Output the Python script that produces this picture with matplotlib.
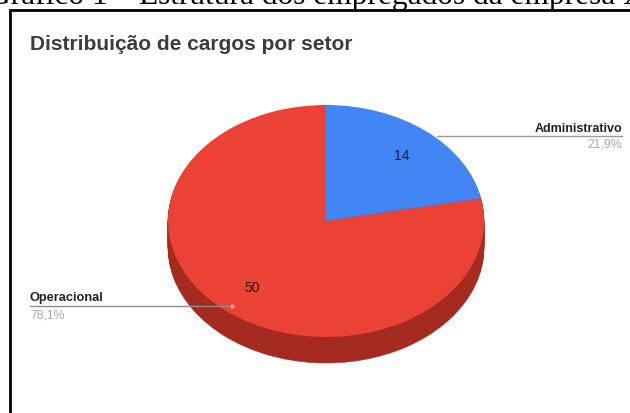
import matplotlib
matplotlib.use("Agg")
import matplotlib.pyplot as plt

categories = ["Administrativo", "Operacional"]
counts = [14, 50]
percents = ["21,9%", "78,1%"]

W, H = 630, 414
TOP_COLORS = ["#4285F4", "#EA4335"]
RIM_COLORS = ["#2F5FAE", "#A52B20"]

fig = plt.figure(figsize=(W / 100, H / 100), dpi=100, facecolor="white")

# full-figure layer in pixel coordinates for frame, heading and labels
bg = fig.add_axes([0, 0, 1, 1])
bg.set_xlim(0, W)
bg.set_ylim(H, 0)
bg.axis("off")

# pie axes stretched so the unit circle becomes the tilted ellipse
left, right, top, bottom = 168, 484, 106, 338
ax = fig.add_axes([left / W, 1 - bottom / H, (right - left) / W, (bottom - top) / H])

# rim: dark copies of the pie stepped downwards
depth = 26 / ((bottom - top) / 2)
for i in range(27, 0, -1):
    ax.pie(counts, colors=RIM_COLORS, startangle=90, counterclock=False,
           center=(0, -depth * i / 27), radius=1, frame=False,
           wedgeprops=dict(linewidth=0.4, edgecolor=RIM_COLORS[1], clip_on=False))
ax.pie(counts, colors=TOP_COLORS, startangle=90, counterclock=False,
       center=(0, 0), radius=1, frame=False,
       wedgeprops=dict(linewidth=0, clip_on=False))
ax.set_aspect("auto")
ax.set_xlim(-1, 1)
ax.set_ylim(-1, 1)
ax.axis("off")

# values on the slices
bg.set_zorder(2)
bg.patch.set_alpha(0)
bg.text(402, 156, str(counts[0]), fontsize=10, family="Liberation Sans", color="#202020",
        ha="center", va="center")
bg.text(252, 288, str(counts[1]), fontsize=10, family="Liberation Sans", color="#3A1510",
        ha="center", va="center")

# frame around the chart, open at the bottom and right
bg.plot([10, 10, 630], [414, 11, 11], color="black", lw=2, solid_joinstyle="miter")

# heading above the frame, cut by the top edge
bg.text(-12, 4, "Gráfico 1 – Estrutura dos empregados da empresa X", family="Liberation Serif",
        fontsize=22.6, color="black", va="baseline", ha="left", clip_on=True)

bg.text(30, 44, "Distribuição de cargos por setor", family="Liberation Sans", weight="bold",
        fontsize=15, color="#3C3C3C", va="center", ha="left")

# leader lines and slice labels
bg.plot([437, 622], [137, 137], color="#9A9A9A", lw=1)
bg.text(622, 129, categories[0], family="Liberation Sans", weight="bold", fontsize=9,
        color="#222222", ha="right", va="center")
bg.text(622, 145, percents[0], family="Liberation Sans", fontsize=8.8, color="#A8A8A8",
        ha="right", va="center")

bg.plot([30, 232], [307, 307], color="#8E8E8E", lw=1)
bg.plot([232], [307], marker="o", ms=3, color="#E9A09A", mew=0)
bg.text(30, 298, categories[1], family="Liberation Sans", weight="bold", fontsize=9.2,
        color="#222222", ha="left", va="center")
bg.text(30, 316, percents[1], family="Liberation Sans", fontsize=8.8, color="#A8A8A8",
        ha="left", va="center")

fig.savefig("out.png", dpi=100)
